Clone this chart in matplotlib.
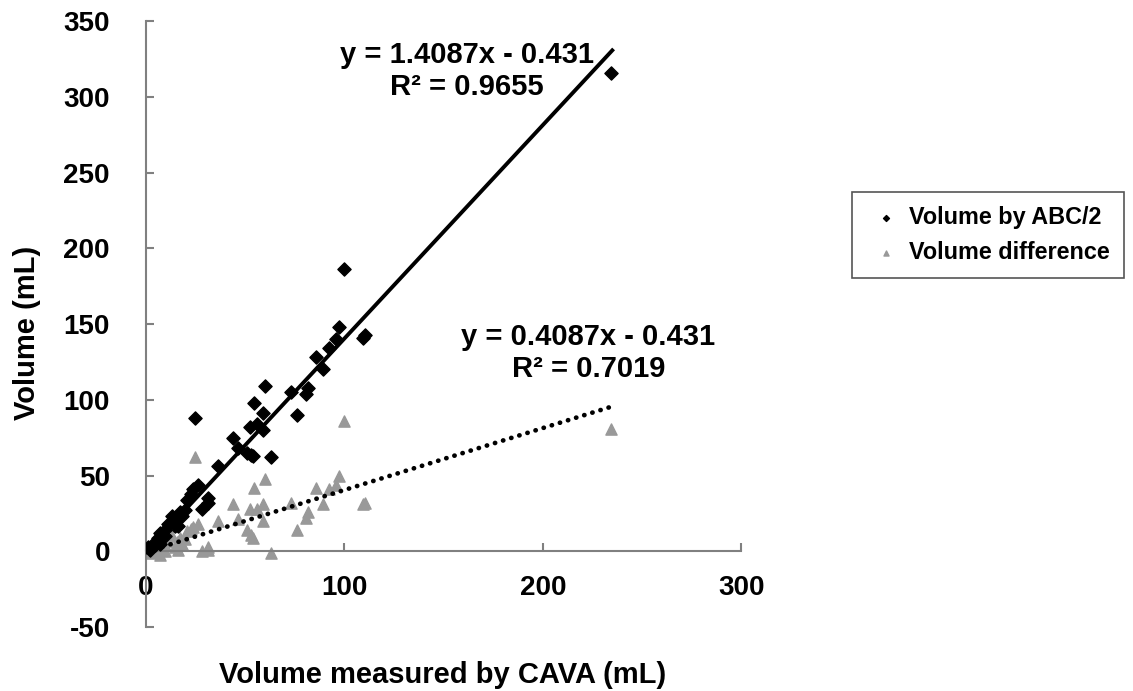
import matplotlib
matplotlib.use("Agg")
import matplotlib.pyplot as plt
import numpy as np

plt.rcParams['font.family'] = ['Liberation Sans', 'DejaVu Sans']
plt.rcParams['font.weight'] = 'bold'
plt.rcParams['axes.unicode_minus'] = False

# volume measured by CAVA (mL)
cava = [234.5, 100.0, 109.6, 110.5, 97.5, 95.8, 92.3, 85.7, 89.0, 81.5,
        80.7, 73.0, 76.0, 60.0, 54.6, 59.0, 52.4, 55.8, 59.0, 43.7,
        46.5, 50.8, 54.0, 52.8, 62.9, 36.5, 24.7, 26.4, 23.9, 22.5,
        31.4, 31.0, 28.0, 19.7, 17.0, 13.0, 15.5, 11.0, 9.6, 7.0,
        6.0, 3.5, 1.0, 2.0, 18.0, 14.6, 16.0, 9.6, 7.0, 4.5, 20.5]
# volume by ABC/2 (mL)
abc2 = [316, 186, 141, 143, 148, 140, 134, 128, 120, 108,
        104, 105, 90, 109, 98, 91, 82, 84, 80, 75,
        68, 65, 63, 63.5, 62.5, 56, 88, 44, 41, 38,
        35, 32, 28, 27, 26, 23, 22, 18, 14, 12,
        8.5, 5, 2.6, 0.7, 23, 17, 17, 10, 4.5, 4, 34]
# volume difference (mL)
diff = [81, 86, 31, 32, 50, 44, 41, 42, 31, 26,
        22, 32, 14, 48, 42, 31, 28, 28, 20, 31,
        21, 14, 9, 10.5, -1, 20, 62, 18, 16, 15,
        3, 1, 0, 8, 9, 10, 6, 7, 4, 5,
        2.5, 1.5, 1.6, -1.3, 5, 2.5, 1, 0.5, -2.5, -0.5, 13.5]

fit1 = (1.4087, -0.431)
fit2 = (0.4087, -0.431)
fit_x = [0, 235]

fig = plt.figure(figsize=(11.33, 6.91), dpi=100)
ax = fig.add_axes([0.1289, 0.0926, 0.5253, 0.877])

ax.scatter(cava, abc2, marker='D', s=45, color='black', zorder=3,
           label='Volume by ABC/2')
ax.scatter(cava, diff, marker='^', s=65, color='#999999', zorder=2,
           label='Volume difference')

xs = np.array(fit_x)
ax.plot(xs, fit1[0] * xs + fit1[1], color='black', lw=2.8, zorder=4)
ax.plot(xs, fit2[0] * xs + fit2[1], color='black', lw=3.4,
        linestyle=(0, (0.05, 1.75)), dash_capstyle='round', zorder=4)

ax.set_xlim(0, 300)
ax.set_ylim(-50, 350)
ax.set_xticks([0, 100, 200, 300])
ax.set_yticks(range(-50, 351, 50))

ax.spines['top'].set_visible(False)
ax.spines['right'].set_visible(False)
ax.spines['bottom'].set_position(('data', 0))
for s in ['left', 'bottom']:
    ax.spines[s].set_color('#808080')
    ax.spines[s].set_linewidth(1.5)
ax.tick_params(axis='both', direction='in', length=6, width=1.5,
               color='#808080', labelsize=20)
ax.tick_params(axis='x', pad=17)
ax.tick_params(axis='y', pad=26)

fig.text(443 / 1133, 1 - 675 / 691, 'Volume measured by CAVA (mL)',
         ha='center', va='center', fontsize=21, fontweight='bold')
fig.text(27 / 1133, 1 - 333 / 691, 'Volume (mL)', rotation=90,
         ha='center', va='center', fontsize=21, fontweight='bold')

ax.text(0.5395, 0.9175, 'y = 1.4087x - 0.431\nR² = 0.9655',
        transform=ax.transAxes, ha='center', va='center', fontsize=21,
        fontweight='bold', linespacing=1.15)
ax.text(0.743, 0.452, 'y = 0.4087x - 0.431\nR² = 0.7019',
        transform=ax.transAxes, ha='center', va='center', fontsize=21,
        fontweight='bold', linespacing=1.15)

leg = ax.legend(loc='upper left', bbox_to_anchor=(0.752, 0.722),
                bbox_transform=fig.transFigure, borderaxespad=0,
                fontsize=16.8, markerscale=0.45,
                handlelength=1.7, handletextpad=0.15, borderpad=0.6,
                labelspacing=0.5, fancybox=False, framealpha=1)
leg.get_frame().set_edgecolor('#555555')
leg.get_frame().set_linewidth(1.2)

fig.savefig('out.png', dpi=100)
